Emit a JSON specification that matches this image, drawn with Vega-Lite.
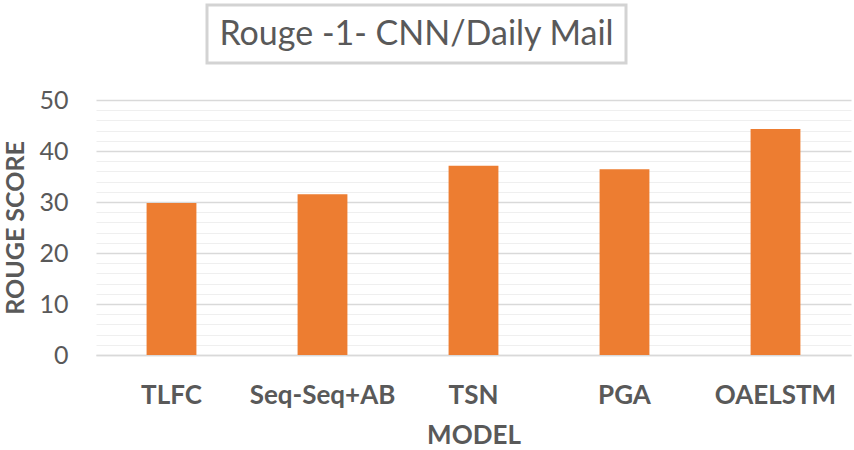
{
  "$schema": "https://vega.github.io/schema/vega-lite/v6.json",
  "padding": {"left": 3, "top": 3, "right": 4, "bottom": 0},
  "background": "white",
  "spacing": 23,
  "config": {"font": "Lato"},
  "vconcat": [
    {
      "spacing": 0,
      "hconcat": [
        {
          "width": 109,
          "height": 58,
          "view": {"stroke": null},
          "data": {"values": [{"title": ""}]},
          "mark": {"type": "text", "fontSize": 10},
          "encoding": {"text": {"field": "title"}}
        },
        {
          "width": 419,
          "height": 58,
          "view": {"stroke": "#d3d3d3", "strokeWidth": 3},
          "data": {"values": [{"title": "Rouge -1- CNN/Daily Mail"}]},
          "mark": {"type": "text", "fontSize": 34, "color": "#595959", "font": "Lato", "baseline": "middle", "align": "center", "dy": 1},
          "encoding": {"text": {"field": "title"}}
        }
      ]
    },
    {
      "width": 755,
      "height": 255,
      "view": {"stroke": null},
      "data": {"values": [
        {"model": "TLFC", "score": 29.8},
        {"model": "Seq-Seq+AB", "score": 31.5},
        {"model": "TSN", "score": 37.1},
        {"model": "PGA", "score": 36.4},
        {"model": "OAELSTM", "score": 44.3}
      ]},
      "mark": {"type": "bar", "color": "#ED7D31"},
      "encoding": {
        "x": {
          "field": "model", "type": "nominal", "sort": null,
          "scale": {"paddingInner": 0.67, "paddingOuter": 0.335},
          "axis": {
            "title": "MODEL", "labelAngle": 0, "labelFontSize": 26, "labelFontWeight": "bold",
            "labelColor": "#595959", "labelPadding": 27, "ticks": false,
            "domainColor": "#d9d9d9", "domainWidth": 1.5,
            "titleFontSize": 26, "titleFontWeight": "bold", "titleColor": "#595959", "titlePadding": 14
          }
        },
        "y": {
          "field": "score", "type": "quantitative",
          "scale": {"domain": [0, 50], "nice": false},
          "axis": {
            "title": "ROUGE SCORE",
            "values": [0,2,4,6,8,10,12,14,16,18,20,22,24,26,28,30,32,34,36,38,40,42,44,46,48,50],
            "labelExpr": "datum.value % 10 === 0 ? datum.label : ''",
            "gridColor": {"condition": {"test": "datum.value % 10 === 0", "value": "#d9d9d9"}, "value": "#efefef"},
            "gridWidth": {"condition": {"test": "datum.value % 10 === 0", "value": 1.5}, "value": 1.2},
            "domain": false, "ticks": false,
            "labelFontSize": 25, "labelColor": "#595959", "labelPadding": 28,
            "titleFontSize": 25, "titleFontWeight": "bold", "titleColor": "#595959", "titlePadding": 10
          }
        }
      }
    }
  ]
}
